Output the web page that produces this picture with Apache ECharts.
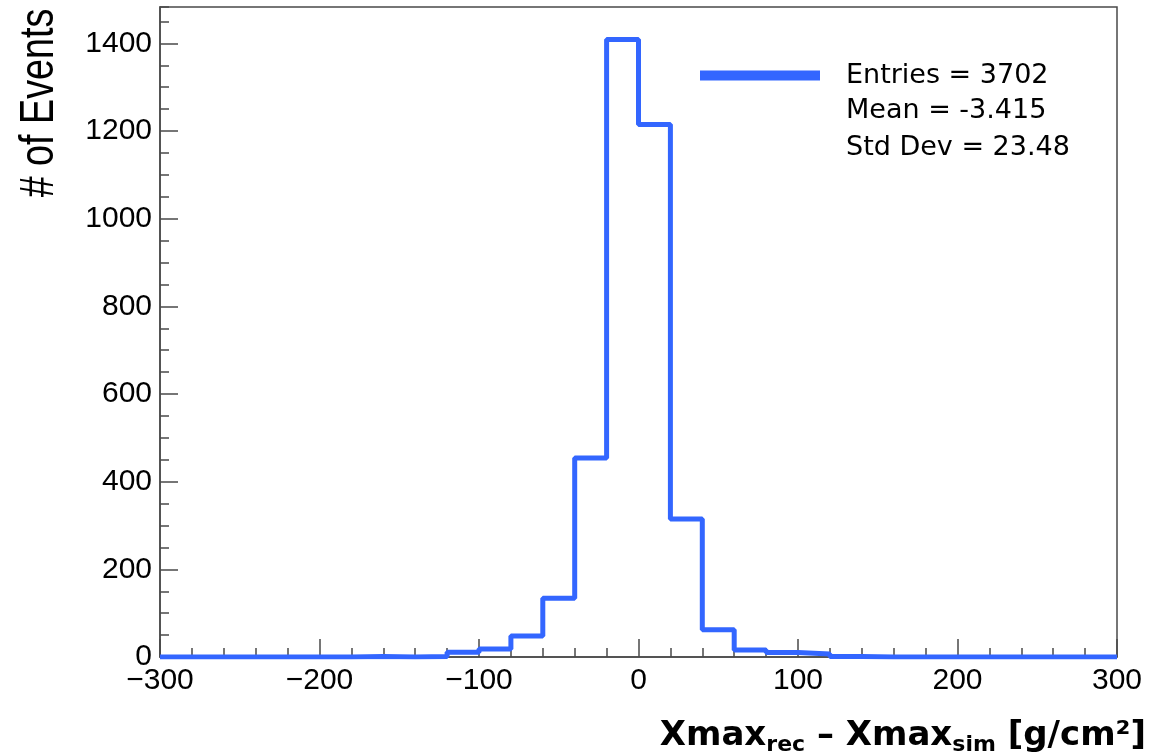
<!DOCTYPE html>
<html>
<head>
<meta charset="utf-8">
<script src="https://cdn.jsdelivr.net/npm/echarts@6/dist/echarts.min.js"></script>
<style>
html,body{margin:0;padding:0;background:#fff;}
#chart{width:1168px;height:756px;}
</style>
</head>
<body>
<div id="chart"></div>
<script>
// Histogram bins (lower edges, width 20)
const binLow = [-300,-280,-260,-240,-220,-200,-180,-160,-140,-120,-100,-80,-60,-40,-20,0,20,40,60,80,100,120,140,160,180,200,220,240,260,280];
const binHigh = 300;
const counts = [0,0,0,0,0,0,1,0,1,11,18,48,134,454,1409,1215,315,62,16,10,7,1,0,0,0,0,0,0,0,0];
const statsLabels = ['Entries = 3702','Mean = -3.415','Std Dev = 23.48'];
const xTitle = {main1:'Xmax', sub1:'rec', main2:' \u2013 Xmax', sub2:'sim', main3:' [g/cm\u00b2]'};
const yTitle = '# of Events';
const xRange = [-300, 300];
const yRange = [0, 1483];

const stepData = binLow.map((x, i) => [x, counts[i]]);
stepData.push([binHigh, counts[counts.length - 1]]);

const axisColor = '#4a4a4a';
const sans = '"Liberation Sans", Arial, sans-serif';
const tickFont = {fontFamily:sans, fontSize:30, color:'#000'};

const chart = echarts.init(document.getElementById('chart'), null, {renderer:'canvas'});
chart.setOption({
  backgroundColor:'#fff',
  animation:false,
  grid:{left:160, right:51, top:7, bottom:99, show:true, borderColor:axisColor, borderWidth:1.5, backgroundColor:'transparent'},
  legend:{
    data:[statsLabels[0]], left:695, top:57, itemWidth:120, itemHeight:10, icon:'rect',
    textStyle:{fontFamily:'DejaVu Sans', fontSize:27, color:'#000', padding:[0,0,0,21]},
    selectedMode:false
  },
  xAxis:[
    {type:'value', min:xRange[0], max:xRange[1], interval:100, position:'bottom',
     axisLine:{show:true, onZero:false, lineStyle:{color:axisColor, width:1.5}},
     axisTick:{show:true, inside:true, length:18, lineStyle:{color:axisColor, width:1.5}},
     axisLabel:Object.assign({margin:9, formatter:v => String(v).replace('-', '\u2212')}, tickFont),
     splitLine:{show:false}},
    {type:'value', min:xRange[0], max:xRange[1], interval:20, position:'bottom', offset:0,
     axisLine:{show:false, onZero:false}, axisLabel:{show:false}, splitLine:{show:false},
     axisTick:{show:true, inside:true, length:9, lineStyle:{color:axisColor, width:1.5}}}
  ],
  yAxis:[
    {type:'value', min:yRange[0], max:yRange[1], interval:200, position:'left',
     axisLine:{show:true, onZero:false, lineStyle:{color:axisColor, width:1.5}},
     axisTick:{show:true, inside:true, length:18, lineStyle:{color:axisColor, width:1.5}},
     axisLabel:Object.assign({margin:8, showMaxLabel:false, formatter:v => (v % 200 === 0 ? String(v) : '')}, tickFont),
     splitLine:{show:false}},
    {type:'value', min:yRange[0], max:yRange[1], interval:50, position:'left', offset:0,
     axisLine:{show:false, onZero:false}, axisLabel:{show:false}, splitLine:{show:false},
     axisTick:{show:true, inside:true, length:9, lineStyle:{color:axisColor, width:1.5}}}
  ],
  series:[{
    name:statsLabels[0], type:'line', step:'end', data:stepData,
    xAxisIndex:0, yAxisIndex:0, showSymbol:false, symbol:'none',
    lineStyle:{color:'#3366ff', width:5}, itemStyle:{color:'#3366ff'}, z:1
  }],
  graphic:[
    {type:'text', left:846, top:97, style:{text:statsLabels[1], font:'27px "DejaVu Sans"', fill:'#000'}},
    {type:'text', left:846, top:134, style:{text:statsLabels[2], font:'27px "DejaVu Sans"', fill:'#000'}},
    {type:'text', x:40, y:103, rotation:Math.PI/2, scaleX:0.82, scaleY:1.03,
     style:{text:yTitle, font:'46px ' + sans, fill:'#000', align:'center', verticalAlign:'middle'}},
    {type:'text', x:1146, y:736,
     style:{
       text:'{m|'+xTitle.main1+'}{s|'+xTitle.sub1+'}{m|'+xTitle.main2+'}{s|'+xTitle.sub2+'}{m|'+xTitle.main3+'}',
       align:'right', verticalAlign:'middle',
       rich:{
         m:{fontFamily:'DejaVu Sans', fontWeight:'bold', fontSize:34, fill:'#000', lineHeight:40, verticalAlign:'middle'},
         s:{fontFamily:'DejaVu Sans', fontWeight:'bold', fontSize:22, fill:'#000', lineHeight:18, verticalAlign:'bottom'}
       }
     }}
  ]
});
</script>
</body>
</html>
